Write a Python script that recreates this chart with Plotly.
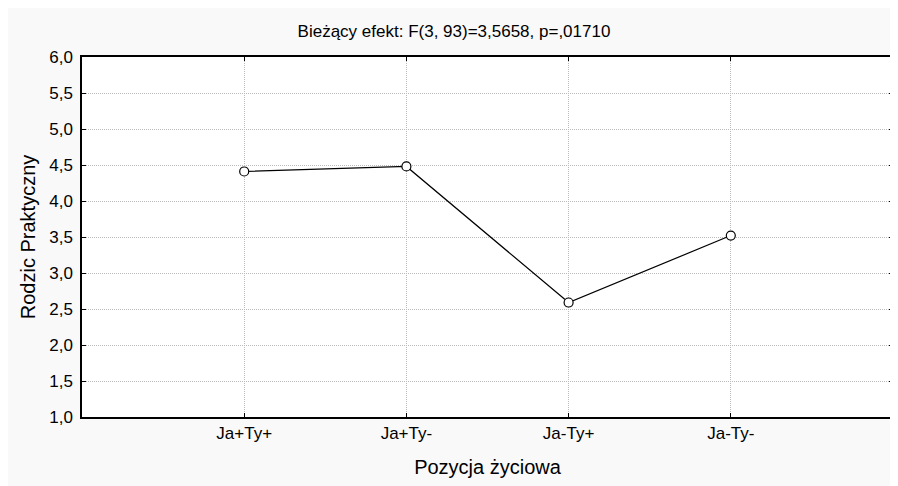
import plotly.graph_objects as go

categories = ["Ja+Ty+", "Ja+Ty-", "Ja-Ty+", "Ja-Ty-"]
positions = [1, 2, 3, 4]
values = [4.41, 4.48, 2.59, 3.52]

W, H = 898, 478

fig = go.Figure()

fig.add_trace(
    go.Scatter(
        x=positions,
        y=values,
        mode="lines+markers",
        line=dict(color="black", width=1.2),
        marker=dict(size=9, color="white", line=dict(color="black", width=1.2)),
        showlegend=False,
    )
)

fig.update_layout(
    width=W,
    height=H,
    margin=dict(l=74, r=11, t=49, b=65),
    paper_bgcolor="#f9f9f9",
    plot_bgcolor="white",
    separators=",.",
    font=dict(family="Liberation Sans, Arial, sans-serif", color="black", size=17),
    title=dict(
        text="Bieżący efekt: F(3, 93)=3,5658, p=,01710",
        xref="container",
        x=446 / W,
        xanchor="center",
        yref="container",
        y=1 - 23 / H,
        yanchor="middle",
        font=dict(size=17),
    ),
)

axis_style = dict(
    showgrid=True,
    gridcolor="#bbbbbb",
    griddash="1px,1px",
    gridwidth=1,
    zeroline=False,
    showline=True,
    linecolor="black",
    linewidth=1.5,
    mirror="ticks",
    ticks="inside",
    ticklen=4,
    tickcolor="black",
)

fig.update_xaxes(
    range=[0, 5],
    tickvals=positions,
    ticktext=categories,
    title=dict(text="Pozycja życiowa", standoff=18),
    **axis_style,
)

fig.update_yaxes(
    range=[1, 6],
    dtick=0.5,
    tick0=1,
    tickformat=".1f",
    ticklabelstandoff=4,
    title=dict(text="Rodzic Praktyczny", standoff=8),
    **axis_style,
)

fig.write_html("out.html")
